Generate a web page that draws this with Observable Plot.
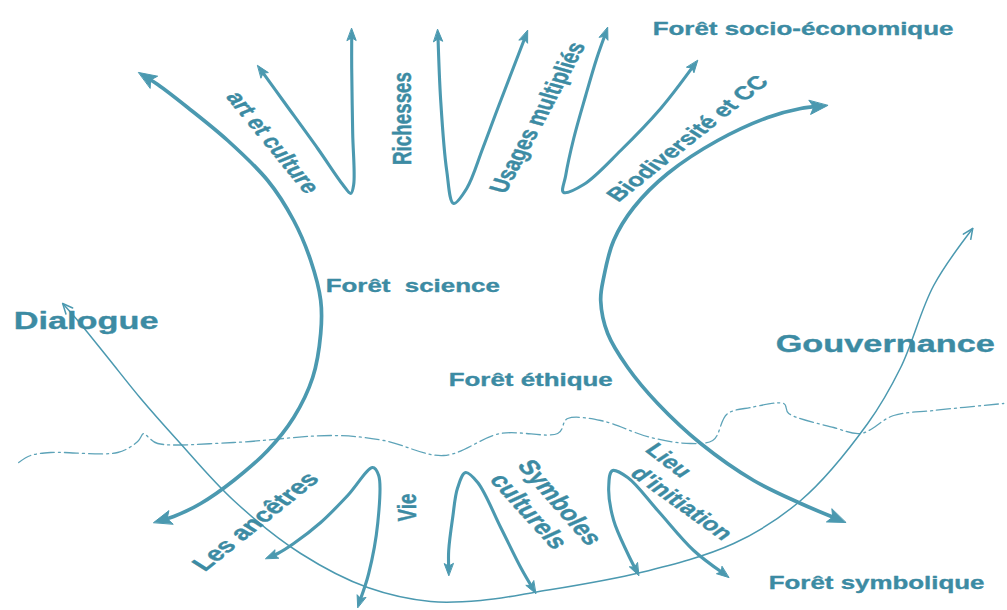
<!DOCTYPE html>
<html>
<head>
<meta charset="utf-8">
<script src="https://cdn.jsdelivr.net/npm/d3@7"></script>
<script src="https://cdn.jsdelivr.net/npm/@observablehq/plot@0.6"></script>
<style>
  html, body { margin: 0; padding: 0; background: #ffffff; }
  #chart svg path { vector-effect: non-scaling-stroke; }
</style>
</head>
<body>
<div id="chart"></div>
<script>
// ---- Diagram data (control points in picture pixels, y downward) ----
const leftArc  = [[138,72],[157,84],[187,107],[227,140],[267,180],[293,220],[310,260],[320,300],[320,333],[312,377],[293,417],[267,450],[233,480],[200,503],[173,516],[153,522]];
const rightArc = [[827,105],[800,108],[767,117],[717,140],[667,173],[633,207],[613,240],[603,277],[600,300],[607,333],[627,367],[657,403],[700,443],[753,480],[800,503],[845,522]];

const forkArt  = [[257,65],[283,101],[317,148],[342,184],[350,193],[353,184],[352,133],[351,67],[351,28]];
const forkRich = [[437,29],[440,100],[446,170],[453,203],[466,188],[482,148],[497,108],[527,30]];
const forkBio  = [[607,27],[596,58],[585,95],[573,138],[565,175],[563,192],[583,184],[620,150],[660,108],[697,60]];
const forkAnc  = [[265,558],[277,553],[293,543],[320,522],[347,495],[372,467],[378,475],[377,523],[368,573],[357,607]];
const forkVie  = [[448,575],[448,550],[452,517],[457,487],[465,472],[477,482],[500,527],[520,567],[535,593]];
const forkInit = [[638,575],[627,553],[613,520],[608,487],[612,470],[627,477],[657,510],[693,550],[728,577]];

const dialogueLine = [[62,303],[77,320],[107,357],[140,398],[177,440],[233,500],[300,553],[367,587],[430,601],[480,600],[533,592],[640,572],[733,543],[800,500],[867,423],[900,367],[933,285],[972,228]];
const horizonLine  = [[18,462],[30,455],[50,452],[117,452],[137,441],[143,433],[148,437],[157,443],[233,442],[333,435],[383,440],[443,455],[500,433],[557,433],[567,418],[600,420],[650,437],[690,443],[712,440],[727,413],[750,407],[783,403],[788,413],[833,427],[860,433],[893,415],[933,410],[1003,403]];

// labels: [text, x, y, angle]
const sectorLabels = [["Forêt socio-économique",652,29],["Forêt\u00a0 science",325,286],["Forêt éthique",448,380],["Forêt symbolique",768,583]];
const axisLabels   = [["Dialogue",13,321],["Gouvernance",775,344]];
const upperBranchLabels = [["art et culture",272,142,59.7],["Richesses",402,118,-90],["Usages multipliés",537,117,-68.9],["Biodiversité et CC",687,138,-48.1],["Vie",407,507,-90],["Lieu",668,460,47],["d'initiation",681,503,45]];
const lowerBranchLabels = [["Les ancêtres",255,521,-48.3],["Symboles",559,502,58],["culturels",528,511,57]];

// ---- Layout ----
const W = 1007, H = 610;
const STRETCH = 1.4;                 // the picture is horizontally stretched
const innerW = W / STRETCH;
const LINE = "#4b99b0", TEXT = "#3c8ba3";

const BIG = {len: 18, wid: 14}, MED = {len: 12, wid: 9}, THIN = {len: 10, wid: 9};

function dir(a, b) { const dx = b[0]-a[0], dy = b[1]-a[1], l = Math.hypot(dx, dy); return [dx/l, dy/l]; }
function head(tip, u, s) {
  const n = [-u[1], u[0]];
  const bx = tip[0]-u[0]*s.len, by = tip[1]-u[1]*s.len;
  return [tip, [bx+n[0]*s.wid/2, by+n[1]*s.wid/2], [tip[0]-u[0]*s.len*0.78, tip[1]-u[1]*s.len*0.78], [bx-n[0]*s.wid/2, by-n[1]*s.wid/2]];
}
function chevron(tip, u, s) {
  const n = [-u[1], u[0]];
  const bx = tip[0]-u[0]*s.len, by = tip[1]-u[1]*s.len;
  return [[bx+n[0]*s.wid/2, by+n[1]*s.wid/2], tip, [bx-n[0]*s.wid/2, by-n[1]*s.wid/2]];
}
function build(paths, spec, key, filled) {
  const lines = [], heads = [];
  paths.forEach((p, i) => {
    const a = p[0], b = p[1], e = p[p.length-1], f = p[p.length-2];
    const u0 = dir(b, a), u1 = dir(f, e);
    const pts = p.map(d => d.slice());
    if (filled) {
      pts[0] = [a[0]-u0[0]*spec.len*0.6, a[1]-u0[1]*spec.len*0.6];
      pts[pts.length-1] = [e[0]-u1[0]*spec.len*0.6, e[1]-u1[1]*spec.len*0.6];
    }
    pts.forEach(([x, y]) => lines.push({id: key+i, x, y}));
    const mk = filled ? head : chevron;
    mk(a, u0, spec).forEach(([x, y]) => heads.push({id: key+i+"s", x, y}));
    mk(e, u1, spec).forEach(([x, y]) => heads.push({id: key+i+"e", x, y}));
  });
  return {lines, heads};
}

const arcs = build([leftArc, rightArc], BIG, "arc", true);
const forks = build([forkArt, forkRich, forkBio, forkAnc, forkVie, forkInit], MED, "fork", true);
const thin = build([dialogueLine], THIN, "dia", false);
const horizon = horizonLine.map(([x, y]) => ({x, y}));

const toRows = arr => arr.map(([text, x, y, angle]) => ({text, x, y, angle: angle || 0}));
const textStyle = {fontWeight: "bold", fill: TEXT, stroke: TEXT, strokeWidth: 0.35};

const svg = Plot.plot({
  width: innerW,
  height: H,
  margin: 0,
  x: {domain: [0, W], range: [0, innerW], axis: null},
  y: {domain: [0, H], range: [0, H], axis: null},
  style: {background: "#ffffff", fontFamily: "'Liberation Sans', Arial, sans-serif", overflow: "visible"},
  marks: [
    Plot.line(horizon, {x: "x", y: "y", curve: "catmull-rom", stroke: LINE, strokeWidth: 1.3, strokeDasharray: "14,4,2,4", strokeOpacity: 0.9}),
    Plot.line(thin.lines, {x: "x", y: "y", z: "id", curve: "catmull-rom", stroke: LINE, strokeWidth: 1.5}),
    Plot.line(thin.heads, {x: "x", y: "y", z: "id", curve: "linear", stroke: LINE, strokeWidth: 1.5}),
    Plot.line(arcs.lines, {x: "x", y: "y", z: "id", curve: "catmull-rom", stroke: LINE, strokeWidth: 3.7, strokeLinecap: "butt"}),
    Plot.line(arcs.heads, {x: "x", y: "y", z: "id", curve: "linear-closed", stroke: LINE, fill: LINE, strokeWidth: 1}),
    Plot.line(forks.lines, {x: "x", y: "y", z: "id", curve: "catmull-rom", stroke: LINE, strokeWidth: 3.1, strokeLinecap: "butt"}),
    Plot.line(forks.heads, {x: "x", y: "y", z: "id", curve: "linear-closed", stroke: LINE, fill: LINE, strokeWidth: 1}),
    Plot.text(toRows(sectorLabels), {x: "x", y: "y", text: "text", textAnchor: "start", lineAnchor: "middle", fontSize: 18.5, ...textStyle}),
    Plot.text(toRows(axisLabels), {x: "x", y: "y", text: "text", textAnchor: "start", lineAnchor: "middle", fontSize: 24.5, ...textStyle}),
    Plot.text(toRows(upperBranchLabels), {x: "x", y: "y", text: "text", rotate: "angle", textAnchor: "middle", lineAnchor: "middle", fontSize: 18.8, ...textStyle}),
    Plot.text(toRows(lowerBranchLabels), {x: "x", y: "y", text: "text", rotate: "angle", textAnchor: "middle", lineAnchor: "middle", fontSize: 20.3, ...textStyle})
  ]
});

svg.setAttribute("viewBox", `0 0 ${innerW} ${H}`);
svg.setAttribute("preserveAspectRatio", "none");
svg.setAttribute("width", W);
svg.setAttribute("height", H);
svg.style.width = W + "px";
svg.style.height = H + "px";
svg.style.maxWidth = "none";
document.getElementById("chart").appendChild(svg);
</script>
</body>
</html>
